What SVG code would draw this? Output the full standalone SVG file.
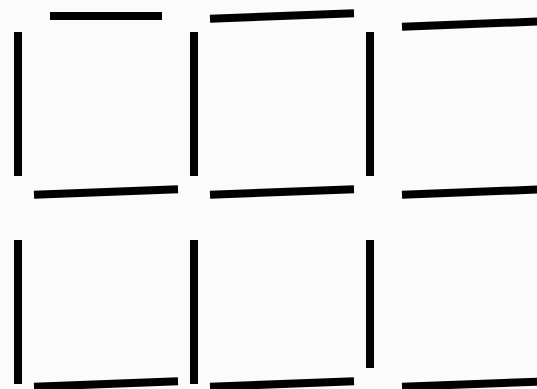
<svg xmlns="http://www.w3.org/2000/svg" width="537" height="389" viewBox="0 0 537 389">
<style>
.s{stroke:#000;stroke-width:8;stroke-linecap:butt;fill:none}
</style>
<rect width="537" height="389" fill="#fbfbfb"/>
<g id="matches">
<!-- top row horizontals -->
<line class="s" x1="50" y1="16" x2="162" y2="16"/>
<line class="s" x1="210" y1="18.7" x2="354" y2="13.2"/>
<line class="s" x1="402" y1="26.7" x2="546" y2="21.2"/>
<!-- top row verticals -->
<line class="s" x1="18" y1="32" x2="18" y2="176"/>
<line class="s" x1="194" y1="32" x2="194" y2="176"/>
<line class="s" x1="370" y1="32" x2="370" y2="176"/>
<!-- middle horizontals -->
<line class="s" x1="34" y1="194.7" x2="178" y2="189.2"/>
<line class="s" x1="210" y1="194.7" x2="354" y2="189.2"/>
<line class="s" x1="402" y1="194.7" x2="546" y2="189.2"/>
<!-- bottom row verticals -->
<line class="s" x1="18" y1="240" x2="18" y2="384"/>
<line class="s" x1="194" y1="240" x2="194" y2="384"/>
<line class="s" x1="370" y1="240" x2="370" y2="368"/>
<!-- bottom horizontals -->
<line class="s" x1="34" y1="386.8" x2="178" y2="381.3"/>
<line class="s" x1="210" y1="386.8" x2="354" y2="381.3"/>
<line class="s" x1="402" y1="386.8" x2="546" y2="381.3"/>
</g>
</svg>
